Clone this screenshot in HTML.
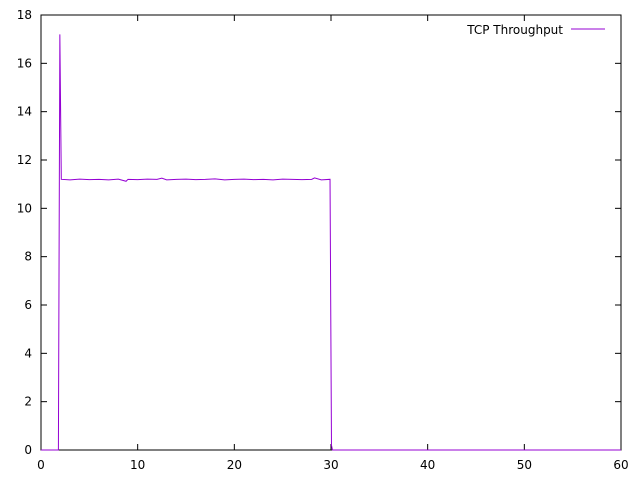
<!DOCTYPE html>
<html><head><meta charset="utf-8"><style>
html,body{margin:0;padding:0;background:#fff;}
svg{display:block;font-family:"DejaVu Sans","Liberation Sans",sans-serif;font-size:12px;}
</style></head><body>
<svg id="chart" width="640" height="480">
<g id="axes"></g>
<rect x="41" y="15" width="580" height="435" fill="none" stroke="#000" stroke-width="1"/>
<path id="series" fill="none" stroke="#9400d3" stroke-width="1"/>
<g>
<text x="563" y="34" text-anchor="end">TCP Throughput</text>
<line x1="571" y1="29" x2="605" y2="29" stroke="#9400d3"/>
</g>
</svg>
<script>
const xTicks=[0,10,20,30,40,50,60];
const yTicks=[0,2,4,6,8,10,12,14,16,18];
const xs=[0,1.8,1.95,2.1,3,4,5,6,7,8,8.8,9,10,11,12,12.5,13,14,15,16,17,18,19,20,21,22,23,24,25,26,27,28,28.3,29,29.9,30.05,30.15,40,50,60];
const ys=[0,0,17.2,11.2,11.18,11.21,11.19,11.2,11.18,11.21,11.12,11.2,11.19,11.21,11.2,11.25,11.18,11.2,11.21,11.19,11.2,11.22,11.18,11.2,11.21,11.19,11.2,11.18,11.21,11.2,11.19,11.2,11.26,11.18,11.2,0.2,0,0,0,0];
const X0=41,X1=621,Y0=450,Y1=15;
const sx=v=>X0+(v-0)/(60-0)*(X1-X0);
const sy=v=>Y0-(v-0)/(18-0)*(Y0-Y1);
const NS="http://www.w3.org/2000/svg";
const ax=document.getElementById('axes');
function mk(t,a){const e=document.createElementNS(NS,t);for(const k in a)e.setAttribute(k,a[k]);return e;}
xTicks.forEach(v=>{
 const x=sx(v);
 const t1=mk('line',{x1:x,y1:Y0,x2:x,y2:Y0-6,stroke:'#000'});
 
 
 ax.appendChild(t1);
 const t2=mk('line',{x1:x,y1:Y1,x2:x,y2:Y1+6,stroke:'#000'});
 
 
 ax.appendChild(t2);
 const l=mk('text',{x:x,y:Y0+19,'text-anchor':'middle'});
 l.textContent=v;
 
 
 ax.appendChild(l);
});
yTicks.forEach(v=>{
 const y=sy(v);
 const t1=mk('line',{x1:X0,y1:y,x2:X0+6,y2:y,stroke:'#000'});
 
 
 ax.appendChild(t1);
 const t2=mk('line',{x1:X1,y1:y,x2:X1-6,y2:y,stroke:'#000'});
 
 
 ax.appendChild(t2);
 const l=mk('text',{x:X0-9,y:y+4,'text-anchor':'end'});
 l.textContent=v;
 
 
 ax.appendChild(l);
});
document.getElementById('series').setAttribute('d',xs.map((v,i)=>(i?'L':'M')+sx(v).toFixed(2)+','+sy(ys[i]).toFixed(2)).join(''));
</script>
</body></html>
